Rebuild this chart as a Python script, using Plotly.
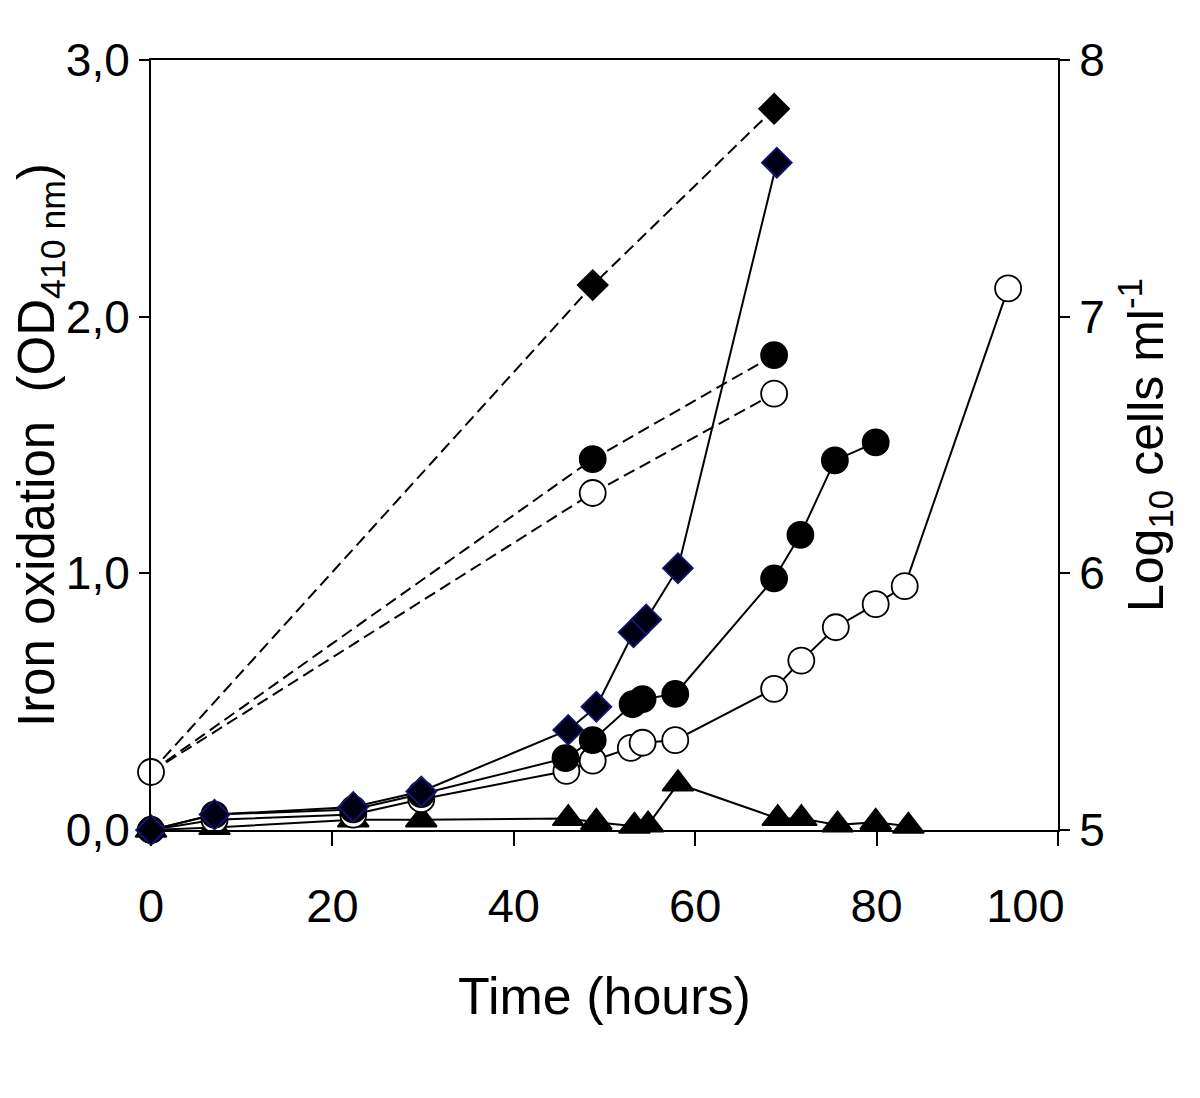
import plotly.graph_objects as go

# ---------------- data ----------------
# Iron oxidation (OD410 nm), left axis, solid lines
t_diamond = [0, 7, 22.3, 29.8, 46.0, 49.1, 53.2, 54.6, 58.1, 69.0]
od_diamond = [0, 0.06, 0.09, 0.15, 0.39, 0.48, 0.77, 0.82, 1.02, 2.60]

t_fcircle = [0, 7, 22.3, 29.8, 45.7, 48.7, 53.1, 54.2, 57.8, 68.7, 71.6, 75.4, 79.9]
od_fcircle = [0, 0.06, 0.08, 0.14, 0.28, 0.35, 0.49, 0.51, 0.53, 0.98, 1.15, 1.44, 1.51]

t_ocircle = [0, 7, 22.3, 29.8, 45.8, 48.7, 52.9, 54.2, 57.8, 68.7, 71.7, 75.5, 79.9, 83.1, 94.5]
od_ocircle = [0, 0.04, 0.06, 0.12, 0.23, 0.27, 0.32, 0.34, 0.35, 0.55, 0.66, 0.79, 0.88, 0.95, 2.11]

t_triangle = [0, 7, 22.3, 29.8, 46.0, 49.1, 53.3, 54.8, 58.1, 69.1, 71.7, 75.7, 79.9, 83.5]
od_triangle = [0, 0.01, 0.04, 0.04, 0.045, 0.03, 0.015, 0.02, 0.18, 0.045, 0.045, 0.02, 0.03, 0.015]

# Log10 cells ml-1, right axis, dashed lines
t_cells = [0, 48.7, 68.7]
log_diamond = [5.226, 7.123, 7.81]
log_fcircle = [5.226, 6.445, 6.85]
log_ocircle = [5.226, 6.313, 6.70]

x_ticks = [0, 20, 40, 60, 80, 100]
x_ticklabels = ["0", "20", "40", "60", "80", "100"]
y_ticks = [0, 1, 2, 3]
y2_ticks = [5, 6, 7, 8]

# ---------------- styles ----------------
FONT = "Liberation Sans, Arial, sans-serif"
LW = 2
DASH = "12px,6px"

fig = go.Figure()

def add(x, y, symbol, fill, size, dash="solid", yaxis="y", hide_first=False, edge="black"):
    sizes = [size] * len(x)
    if hide_first:
        sizes[0] = 0
    fig.add_trace(go.Scatter(
        x=x, y=y, yaxis=yaxis, mode="lines+markers",
        line=dict(color="black", width=LW, dash=dash),
        marker=dict(symbol=symbol, size=sizes, color=fill, opacity=1,
                    line=dict(color=edge, width=1.8)),
        showlegend=False, cliponaxis=False,
    ))

# dashed (cell counts, right axis)
add(t_cells, log_diamond, "diamond", "black", 23, DASH, "y2", hide_first=True)
add(t_cells, log_fcircle, "circle", "black", 26, DASH, "y2", hide_first=True)
add(t_cells, log_ocircle, "circle", "white", 26, DASH, "y2")

# solid (iron oxidation, left axis)
add(t_triangle, od_triangle, "triangle-up", "black", 27)
add(t_ocircle, od_ocircle, "circle", "white", 26)
add(t_fcircle, od_fcircle, "circle", "black", 26)
add(t_diamond, od_diamond, "diamond", "#000014", 23, edge="#14147a")

# pad the last x tick label so it sits left of the right axis labels
xt = list(x_ticklabels)
xt[-1] = xt[-1] + "&nbsp;" * 5

fig.update_layout(
    width=1200, height=1098,
    margin=dict(l=143, r=150, t=52, b=276),
    paper_bgcolor="white", plot_bgcolor="white",
    font=dict(family=FONT, color="black", size=46),
    separators=", ",
    xaxis=dict(
        range=[0, 100], tickvals=x_ticks, ticktext=xt,
        showline=True, linecolor="black", linewidth=2, mirror=True,
        ticks="outside", ticklen=14, tickwidth=2, tickcolor="black",
        ticklabelstandoff=20,
        showgrid=False, zeroline=False,
        tickfont=dict(size=47),
        title=dict(text="Time (hours)", font=dict(size=52), standoff=46),
    ),
    yaxis=dict(
        range=[0, 3], tickvals=y_ticks, tickformat=".1f",
        showline=True, linecolor="black", linewidth=2,
        ticks="outside", ticklen=10, tickwidth=2, tickcolor="black",
        showgrid=False, zeroline=False,
        tickfont=dict(size=46),
        title=dict(text="Iron oxidation  (OD<sub>410 nm</sub>)", font=dict(size=51), standoff=4),
    ),
    yaxis2=dict(
        range=[5, 8], tickvals=y2_ticks, overlaying="y", side="right",
        showline=True, linecolor="black", linewidth=2,
        ticks="outside", ticklen=10, tickwidth=2, tickcolor="black",
        showgrid=False, zeroline=False,
        tickfont=dict(size=46),
        title=dict(text="Log<sub>10</sub> cells ml<sup>-1</sup>", font=dict(size=50), standoff=24),
    ),
)

fig.write_html("out.html")
